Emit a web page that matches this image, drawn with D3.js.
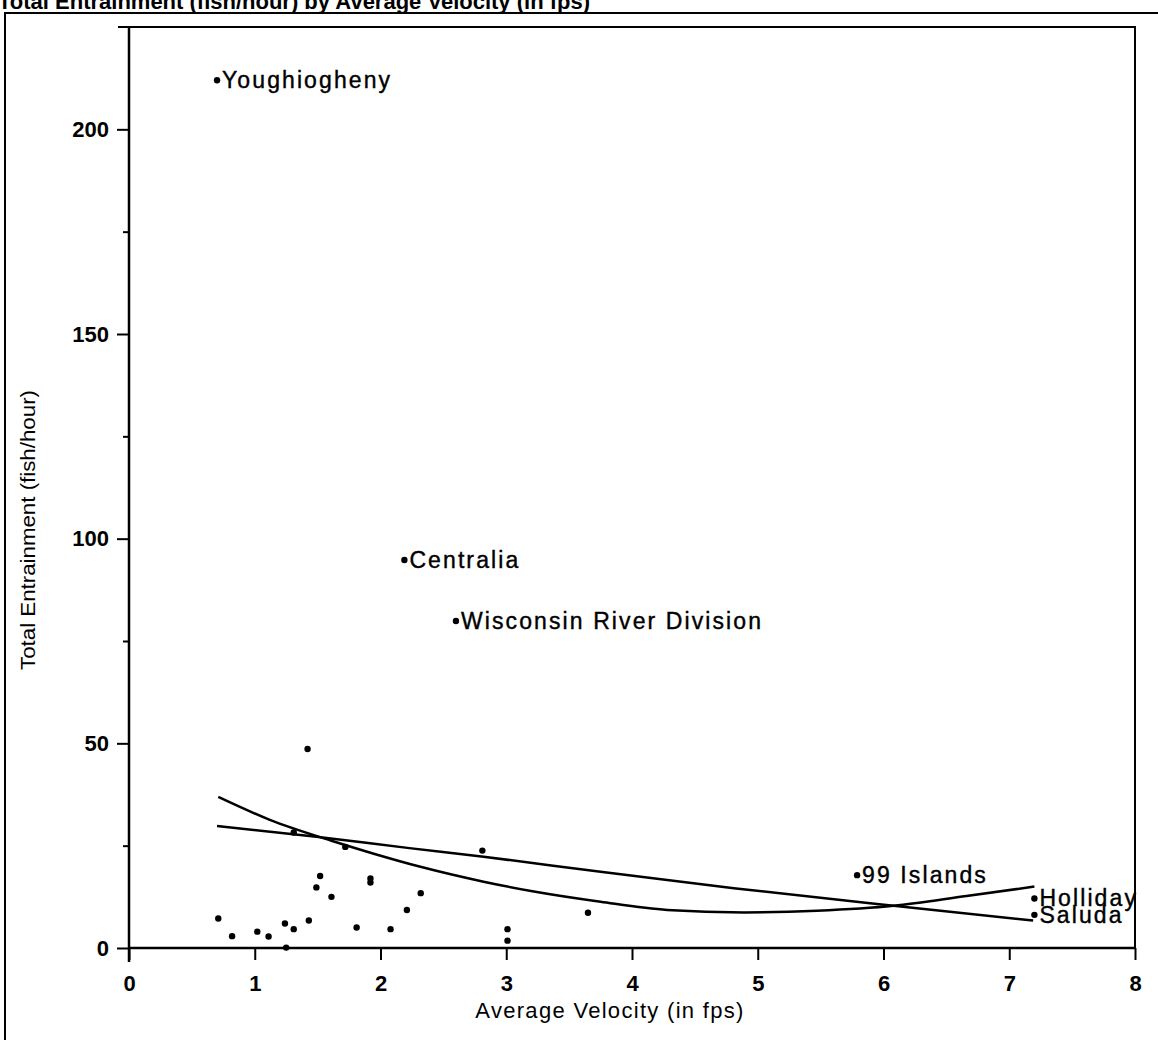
<!DOCTYPE html>
<html>
<head>
<meta charset="utf-8">
<script src="https://cdn.jsdelivr.net/npm/d3@7"></script>
<style>
  html, body { margin: 0; padding: 0; background: #fff; }
  svg { display: block; }
  text { font-family: "Liberation Sans", Arial, Helvetica, sans-serif; fill: #000; }
</style>
</head>
<body>
<svg id="chart" width="1158" height="1040"></svg>
<script>
// ---- data ----
const titleText = "Total Entrainment (fish/hour) by Average Velocity (in fps)";
const xTitle = "Average Velocity (in fps)";
const yTitle = "Total Entrainment (fish/hour)";

const xTicks = [0, 1, 2, 3, 4, 5, 6, 7, 8];
const yTicks = [0, 50, 100, 150, 200];
const yMinorTicks = [25, 75, 125, 175];

// unlabelled sites: velocity (fps), entrainment (fish/hour)
const siteVelocity = [0.71, 0.82, 1.02, 1.11, 1.24, 1.31, 1.25, 1.43, 1.49, 1.52, 1.61, 1.72,
                      1.81, 1.92, 1.92, 2.08, 2.21, 2.32, 2.81, 3.01, 3.01, 3.65, 1.31, 1.42];
const siteEntrainment = [7.2, 2.9, 4.0, 2.8, 6.0, 4.6, 0.1, 6.7, 14.8, 17.6, 12.5, 24.7,
                         5.0, 17.0, 16.0, 4.6, 9.3, 13.4, 23.8, 4.6, 1.8, 8.6, 28.2, 48.6];

// labelled sites
const labelNames = ["Youghiogheny", "Centralia", "Wisconsin River Division", "99 Islands", "Holliday", "Saluda"];
const labelVelocity = [0.70, 2.19, 2.60, 5.79, 7.20, 7.20];
const labelEntrainment = [212, 94.8, 79.9, 17.8, 12.1, 8.1];

// fitted curves
const linearFitX = [0.70, 1.49, 2.23, 2.82, 3.75, 4.81, 6.08, 7.19];
const linearFitY = [29.8, 27.2, 24.4, 22.3, 18.6, 14.6, 10.3, 6.7];
const quadFitX = [0.71, 1.12, 1.61, 1.94, 2.31, 2.82, 3.22, 3.75, 4.28, 4.89, 5.47, 6.08, 6.66, 7.20];
const quadFitY = [36.9, 31.3, 26.2, 23.1, 19.9, 16.2, 13.8, 11.3, 9.3, 8.7, 9.1, 10.3, 12.7, 15.0];

// ---- drawing ----
const svg = d3.select("#chart");
const x = d3.scaleLinear().domain([0, 8]).range([129, 1135]);
const y = d3.scaleLinear().domain([0, 225]).range([948, 27]);

// title (clipped at the top like the scan)
svg.append("text")
  .attr("x", -2).attr("y", 9)
  .attr("font-size", 22).attr("font-weight", "bold")
  .text(titleText);

// outer frame
svg.append("path")
  .attr("d", "M5,1040 V13 H1158")
  .attr("fill", "none").attr("stroke", "#000").attr("stroke-width", 2);

// plot frame top and right
svg.append("path")
  .attr("d", `M118,${y(225)} H${x(8)} V${y(0)}`)
  .attr("fill", "none").attr("stroke", "#000").attr("stroke-width", 2);

// x axis
const xAxis = d3.axisBottom(x).tickValues(xTicks).tickSize(12).tickPadding(15).tickFormat(d3.format("d"));
const gx = svg.append("g").attr("transform", `translate(0,${y(0)})`).call(xAxis);
gx.select(".domain").remove();
gx.selectAll(".tick line").attr("stroke-width", 2);
gx.selectAll(".tick text").attr("font-size", 22).attr("font-weight", "bold")
  .style("font-family", "'Liberation Sans', Arial, sans-serif");
svg.append("line")
  .attr("x1", x(0)).attr("x2", x(8)).attr("y1", y(0)).attr("y2", y(0))
  .attr("stroke", "#000").attr("stroke-width", 2.5);

// y axis
const yAxis = d3.axisLeft(y).tickValues(yTicks).tickSize(12).tickPadding(8).tickFormat(d3.format("d"));
const gy = svg.append("g").attr("transform", `translate(${x(0)},0)`).call(yAxis);
gy.select(".domain").remove();
gy.selectAll(".tick line").attr("stroke-width", 2);
gy.selectAll(".tick text").attr("font-size", 22).attr("font-weight", "bold")
  .style("font-family", "'Liberation Sans', Arial, sans-serif");
const yMinor = d3.axisLeft(y).tickValues(yMinorTicks).tickSize(6).tickFormat("");
const gym = svg.append("g").attr("transform", `translate(${x(0)},0)`).call(yMinor);
gym.select(".domain").remove();
gym.selectAll(".tick line").attr("stroke-width", 2);
svg.append("line")
  .attr("x1", x(0)).attr("x2", x(0)).attr("y1", y(225)).attr("y2", y(0) + 14)
  .attr("stroke", "#000").attr("stroke-width", 2.5);

// axis titles
svg.append("text")
  .attr("x", 610).attr("y", 1018)
  .attr("text-anchor", "middle").attr("font-size", 22)
  .attr("letter-spacing", 1.3)
  .text(xTitle);
svg.append("text")
  .attr("transform", `translate(35,530) rotate(-90)`)
  .attr("text-anchor", "middle").attr("font-size", 21)
  .attr("textLength", 280).attr("lengthAdjust", "spacingAndGlyphs")
  .text(yTitle);

// fitted curves
const lineGen = d3.line().x(d => x(d[0])).y(d => y(d[1])).curve(d3.curveMonotoneX);
svg.append("path")
  .datum(d3.zip(linearFitX, linearFitY))
  .attr("d", lineGen).attr("fill", "none").attr("stroke", "#000").attr("stroke-width", 2.5);
svg.append("path")
  .datum(d3.zip(quadFitX, quadFitY))
  .attr("d", lineGen).attr("fill", "none").attr("stroke", "#000").attr("stroke-width", 2.5);

// unlabelled points
svg.append("g").selectAll("circle")
  .data(d3.zip(siteVelocity, siteEntrainment))
  .join("circle")
  .attr("cx", d => x(d[0])).attr("cy", d => y(d[1])).attr("r", 3.2).attr("fill", "#000");

// labelled points
const lab = svg.append("g").selectAll("g")
  .data(labelNames.map((n, i) => ({ n, v: labelVelocity[i], e: labelEntrainment[i] })))
  .join("g");
lab.append("circle")
  .attr("cx", d => x(d.v)).attr("cy", d => y(d.e)).attr("r", 3.2).attr("fill", "#000");
lab.append("text")
  .attr("x", d => x(d.v) + 5).attr("y", d => y(d.e) + 8)
  .attr("font-size", 23).attr("letter-spacing", 2.1)
  .attr("stroke", "#000").attr("stroke-width", 0.4)
  .text(d => d.n);
</script>
</body>
</html>
